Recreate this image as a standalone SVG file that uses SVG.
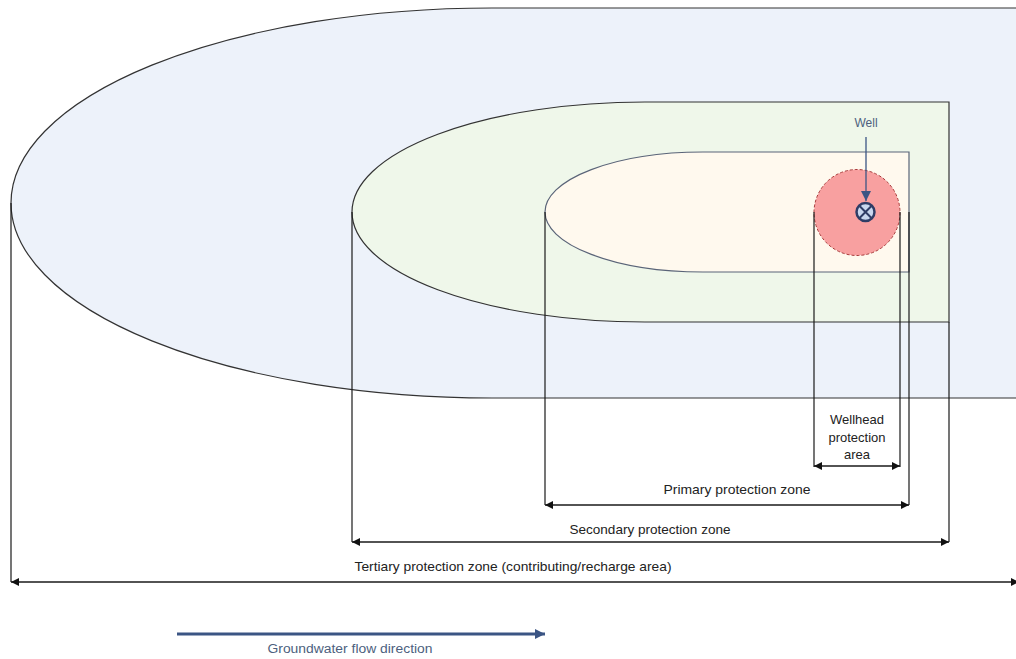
<svg xmlns="http://www.w3.org/2000/svg" width="1016" height="659" viewBox="0 0 1016 659">
  <style>
    .outline { stroke: #333333; stroke-width: 1.2; }
    .ext { stroke: #1a1a1a; stroke-width: 1.2; fill: none; }
    .dim { stroke: #1a1a1a; stroke-width: 1.5; fill: none; marker-start: url(#dimHead); marker-end: url(#dimHead); }
    .lbl { font-family: "Liberation Sans", Arial, sans-serif; font-size: 13px; fill: #222222; text-anchor: middle; }
    .blue-lbl { font-family: "Liberation Sans", Arial, sans-serif; font-size: 12px; fill: #4d5f7e; text-anchor: middle; }
  </style>
  <defs>
    <marker id="dimHead" viewBox="0 0 10 10" refX="10" refY="5" markerWidth="8" markerHeight="8" markerUnits="userSpaceOnUse" orient="auto-start-reverse">
      <path d="M0,0 L10,5 L0,10 Z" fill="#111111"/>
    </marker>
    <marker id="blueHead" viewBox="0 0 10 10" refX="10" refY="5" markerWidth="10" markerHeight="10" markerUnits="userSpaceOnUse" orient="auto">
      <path d="M0,0 L10,5 L0,10 Z" fill="#3b5584"/>
    </marker>
  </defs>

  <rect width="1016" height="659" fill="#ffffff"/>

  <!-- Tertiary zone: half-ellipse cap running off the right edge -->
  <g id="tertiary-zone">
    <path d="M1020,8 H492 A481,195 0 0 0 11,203 A481,195 0 0 0 492,398 H1020" fill="#edf2fa" class="outline"/>
  </g>

  <!-- Secondary zone -->
  <g id="secondary-zone">
    <path d="M949,102 H645 A293,110 0 0 0 352,212 A293,110 0 0 0 645,322 H949 Z" fill="#eff7ea" class="outline"/>
  </g>

  <!-- Primary zone -->
  <g id="primary-zone">
    <path d="M909,152 H703 A158,60 0 0 0 545,212 A158,60 0 0 0 703,272 H909 Z" fill="#fff9ee" stroke="#5a6478" stroke-width="1.2"/>
  </g>

  <!-- Wellhead protection area -->
  <g id="wellhead-area">
    <circle cx="857" cy="212.5" r="43" fill="#f8a0a0" stroke="#a83a3a" stroke-width="1" stroke-dasharray="3 2"/>
  </g>

  <!-- Well symbol and label -->
  <g id="well">
    <circle cx="865.5" cy="212" r="9" fill="#c9d8ef" stroke="#2f3d66" stroke-width="2.5"/>
    <path d="M859.3,205.8 L871.7,218.2 M871.7,205.8 L859.3,218.2" stroke="#2f3d66" stroke-width="2"/>
    <text x="866" y="127" class="blue-lbl" font-size="13">Well</text>
  </g>

  <!-- Extension lines and dimension arrows -->
  <g id="connectors">
    <line x1="866" y1="137" x2="866" y2="201" stroke="#3b5584" stroke-width="1.3" marker-end="url(#blueHead)"/>

    <line x1="11" y1="203" x2="11" y2="582" class="ext"/>
    <line x1="352" y1="212" x2="352" y2="542" class="ext"/>
    <line x1="545" y1="212" x2="545" y2="505" class="ext"/>
    <line x1="814" y1="212" x2="814" y2="467" class="ext"/>
    <line x1="900" y1="212" x2="900" y2="467" class="ext"/>
    <line x1="909" y1="212" x2="909" y2="505" class="ext"/>
    <line x1="949" y1="322" x2="949" y2="542" class="ext"/>

    <line x1="814" y1="466" x2="900" y2="466" class="dim"/>
    <line x1="545" y1="505" x2="909" y2="505" class="dim"/>
    <line x1="352" y1="542" x2="949" y2="542" class="dim"/>
    <line x1="11" y1="582" x2="1019" y2="582" class="dim"/>

    <line x1="177" y1="634" x2="545" y2="634" stroke="#3b5584" stroke-width="3" marker-end="url(#blueHead)"/>
  </g>

  <!-- Dimension labels -->
  <g id="labels">
    <text x="857" y="424" class="lbl">Wellhead</text>
    <text x="857" y="442" class="lbl">protection</text>
    <text x="857" y="459" class="lbl">area</text>
    <text x="737" y="494" class="lbl" textLength="147" lengthAdjust="spacingAndGlyphs">Primary protection zone</text>
    <text x="650" y="534" class="lbl" textLength="161" lengthAdjust="spacingAndGlyphs">Secondary protection zone</text>
    <text x="513" y="571" class="lbl" textLength="317" lengthAdjust="spacingAndGlyphs">Tertiary protection zone (contributing/recharge area)</text>
    <text x="350" y="653" class="blue-lbl" textLength="165" lengthAdjust="spacingAndGlyphs">Groundwater flow direction</text>
  </g>
</svg>
